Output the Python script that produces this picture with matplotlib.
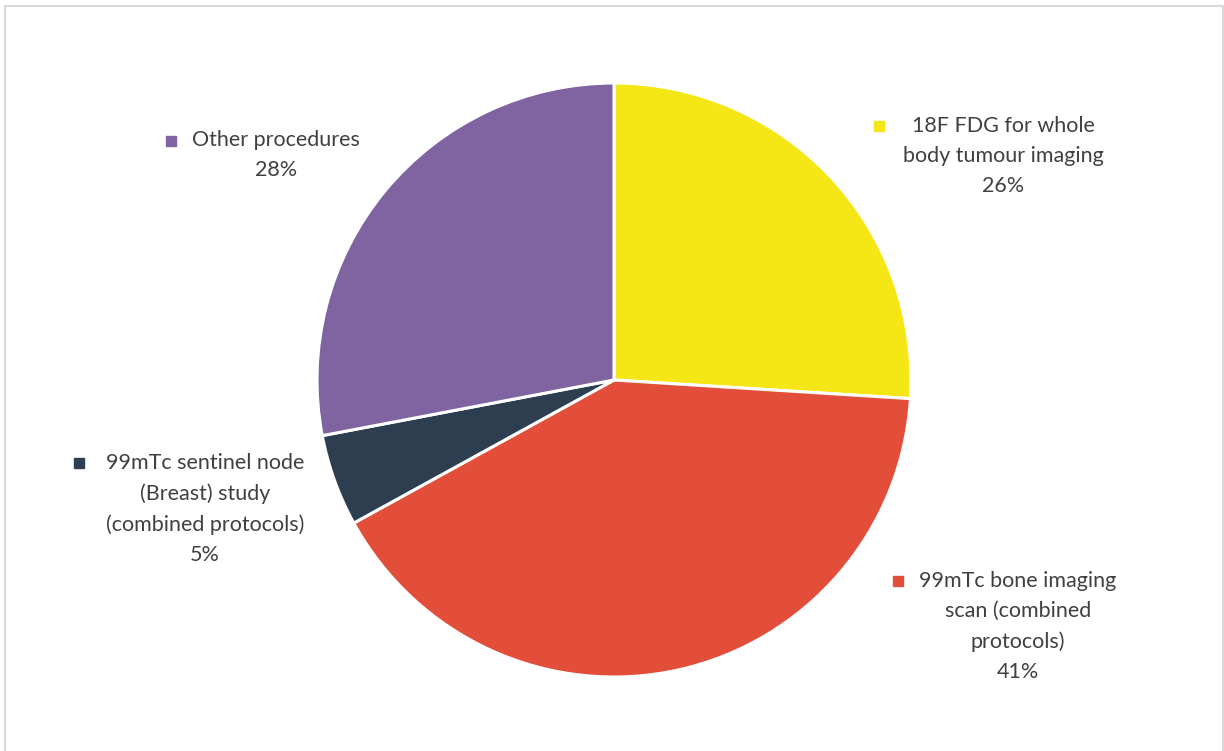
import matplotlib.pyplot as plt
from matplotlib.patches import Rectangle
from matplotlib.lines import Line2D

# share of procedures, clockwise from 12 o'clock
labels = ['18F FDG for whole\nbody tumour imaging',
          '99mTc bone imaging\nscan (combined\nprotocols)',
          '99mTc sentinel node\n(Breast) study\n(combined protocols)',
          'Other procedures']
shares = [26, 41, 5, 28]
colors = ['#F5E616', '#E34E3A', '#2D3E50', '#8064A2']

# label anchor (text centre x, top y) and marker position, in pixels
label_pos = [(1003, 116), (1018, 571), (205, 453), (276, 130)]
marker_pos = [(879, 126), (898, 581), (79, 463), (171, 141)]

W, H = 1224, 751
plt.rcParams['font.family'] = ['Lato', 'DejaVu Sans']
fig = plt.figure(figsize=(W / 100, H / 100), dpi=100)

# light grey frame around the chart area
fig.patches.append(Rectangle((4.5 / W, -0.01), (1222.5 - 4.5) / W, 1.01 - 6 / H,
                             transform=fig.transFigure, fill=False,
                             edgecolor='#D9D9D9', linewidth=1.5))

cx, cy, r = 614, 380, 297
ax = fig.add_axes([(cx - r) / W, (H - cy - r) / H, 2 * r / W, 2 * r / H])
ax.pie(shares, colors=colors, startangle=90, counterclock=False, radius=1,
       wedgeprops=dict(edgecolor='white', linewidth=2.2))
ax.set_xlim(-1, 1)
ax.set_ylim(-1, 1)
ax.set_aspect('equal')
ax.axis('off')

for lab, val, col, (tx, ty), (mx, my) in zip(labels, shares, colors, label_pos, marker_pos):
    fig.text(tx / W, 1 - ty / H, f'{lab}\n{val}%', ha='center', va='top',
             fontsize=15.5, color='#404040', linespacing=1.62)
    fig.add_artist(Line2D([mx / W], [1 - my / H], marker='s', markersize=6.5,
                          color=col, linestyle='none', transform=fig.transFigure))

fig.savefig('out.png', dpi=100, facecolor='white')
